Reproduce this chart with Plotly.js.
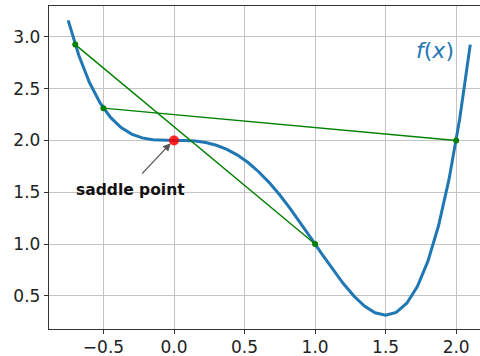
<!DOCTYPE html>
<html>
<head>
<meta charset="utf-8">
<script src="https://cdn.plot.ly/plotly-3.0.1.min.js"></script>
<style>html,body{margin:0;padding:0;background:#fff;}#chart{width:480px;height:356px;}</style>
</head>
<body>
<div id="chart"></div>
<script>
var curveX = [-0.75,-0.675,-0.6,-0.525,-0.45,-0.375,-0.3,-0.225,-0.15,-0.075,0,0.075,0.15,0.225,0.3,0.375,0.45,0.525,0.6,0.675,0.75,0.825,0.9,0.975,1.05,1.125,1.2,1.275,1.35,1.425,1.5,1.575,1.65,1.725,1.8,1.875,1.95,2.025,2.1];
var curveY = [3.160,2.823,2.562,2.365,2.223,2.125,2.062,2.025,2.007,2.001,2.0,1.999,1.994,1.980,1.954,1.914,1.859,1.787,1.698,1.593,1.473,1.340,1.198,1.050,0.900,0.754,0.618,0.497,0.401,0.336,0.3125,0.340,0.428,0.588,0.834,1.176,1.629,2.208,2.926];
var chord1X = [-0.7, 1.0];
var chord1Y = [2.926, 1.0];
var chord2X = [-0.5, 2.0];
var chord2Y = [2.3125, 2.0];
var saddleX = [0.0];
var saddleY = [2.0];
var xTickVals = [-0.5, 0.0, 0.5, 1.0, 1.5, 2.0];
var xTickText = ['\u22120.5','0.0','0.5','1.0','1.5','2.0'];
var yTickVals = [0.5, 1.0, 1.5, 2.0, 2.5, 3.0];
var yTickText = ['0.5','1.0','1.5','2.0','2.5','3.0'];

var traces = [
  {x: curveX, y: curveY, mode: 'lines', line: {color: '#1f77b4', width: 3}, hoverinfo: 'skip'},
  {x: chord1X, y: chord1Y, mode: 'lines+markers', line: {color: '#008000', width: 1.4}, marker: {color: '#008000', size: 6}},
  {x: chord2X, y: chord2Y, mode: 'lines+markers', line: {color: '#008000', width: 1.4}, marker: {color: '#008000', size: 6}},
  {x: saddleX, y: saddleY, mode: 'markers', marker: {color: 'rgba(255,0,0,0.85)', size: 10}}
];

var layout = {
  width: 480, height: 356,
  margin: {l: 49, r: 0, t: 6, b: 27, pad: 0},
  paper_bgcolor: '#fff', plot_bgcolor: '#fff',
  showlegend: false,
  font: {family: 'DejaVu Sans', color: '#222', size: 17},
  xaxis: {
    range: [-0.886, 2.169], tickvals: xTickVals, ticktext: xTickText,
    showgrid: true, gridcolor: '#c4c4c4', gridwidth: 1, zeroline: false,
    showline: true, linecolor: '#333', linewidth: 1.2, mirror: true,
    ticks: 'outside', ticklen: 4, tickcolor: '#333', tickwidth: 1, ticklabelstandoff: -2,
    tickfont: {family: 'DejaVu Sans', size: 17, color: '#222'}
  },
  yaxis: {
    range: [0.179, 3.299], tickvals: yTickVals, ticktext: yTickText,
    showgrid: true, gridcolor: '#c4c4c4', gridwidth: 1, zeroline: false,
    showline: true, linecolor: '#333', linewidth: 1.2,
    ticks: 'outside', ticklen: 4, tickcolor: '#333', tickwidth: 1,
    tickfont: {family: 'DejaVu Sans', size: 17, color: '#222'}
  },
  annotations: [
    {x: -0.023, y: 1.974, ax: -0.236, ay: 1.665, axref: 'x', ayref: 'y', xref: 'x', yref: 'y',
     text: '', showarrow: true, arrowhead: 2, arrowsize: 1.2, arrowwidth: 1.3, arrowcolor: '#555', standoff: 0, startstandoff: 0},
    {x: -0.305, y: 1.52, xref: 'x', yref: 'y', text: '<b>saddle point</b>', showarrow: false,
     font: {family: 'DejaVu Sans', size: 15.5, color: '#111'}},
    {x: 1.85, y: 2.865, xref: 'x', yref: 'y', text: '<i>f</i>(<i>x</i>)', showarrow: false,
     font: {family: 'DejaVu Sans', size: 22, color: '#1f77b4'}}
  ]
};

Plotly.newPlot('chart', traces, layout, {displayModeBar: false, staticPlot: true});
</script>
</body>
</html>
